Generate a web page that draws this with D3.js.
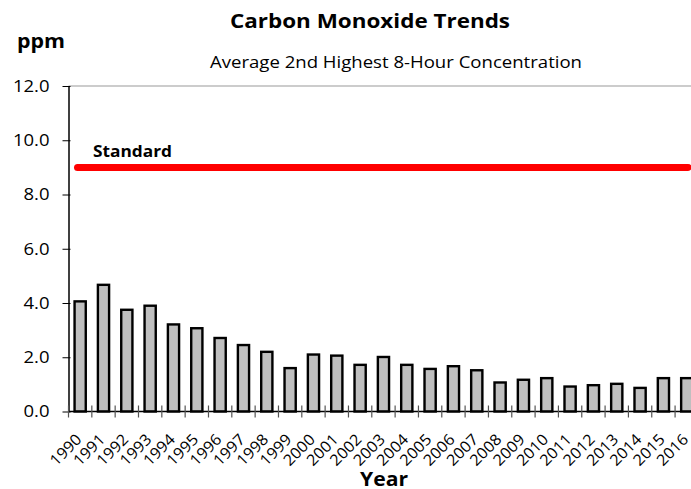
<!DOCTYPE html>
<html>
<head>
<meta charset="utf-8">
<script src="https://cdn.jsdelivr.net/npm/d3@7"></script>
<style>
  body { margin: 0; background: #fff; }
  svg { display: block; font-family: "Open Sans", sans-serif; }
</style>
</head>
<body>
<svg id="chart" width="691" height="489"></svg>
<script>
// values
var years = ["1990","1991","1992","1993","1994","1995","1996","1997","1998","1999",
             "2000","2001","2002","2003","2004","2005","2006","2007","2008","2009",
             "2010","2011","2012","2013","2014","2015","2016"];
var ppm = [4.06, 4.67, 3.75, 3.9, 3.21, 3.07, 2.71, 2.45, 2.2, 1.6,
           2.1, 2.06, 1.72, 2.01, 1.72, 1.57, 1.67, 1.52, 1.07, 1.17,
           1.23, 0.92, 0.97, 1.02, 0.87, 1.23, 1.23];
var yTicks = [0, 2, 4, 6, 8, 10, 12];
var standard = 9;

var svg = d3.select("#chart");
var plotLeft = 68.5, plotTop = 86, plotBottom = 411.5;
var step = 23.33;

// the original text is a bit wider than Open Sans, stretch it
function stretch(sel, f)
{
	sel.each(function() {
		var w = this.getComputedTextLength();
		d3.select(this).attr("textLength", w * f).attr("lengthAdjust", "spacingAndGlyphs");
	});
}

var x = d3.scaleBand().domain(years).range([plotLeft, plotLeft + step * years.length]).paddingInner(0.52).paddingOuter(0.26);
var xb = d3.scaleBand().domain(years).range([plotLeft, plotLeft + step * years.length]);
var y = d3.scaleLinear().domain([0, 12]).range([plotBottom, plotTop]);

// top gridline
svg.append("line")
	.attr("x1", plotLeft).attr("x2", 691)
	.attr("y1", y(12)).attr("y2", y(12))
	.attr("stroke", "#9a9a9a").attr("stroke-width", 1.2);

// standard line
svg.append("line")
	.attr("x1", plotLeft + 9).attr("x2", 688)
	.attr("y1", y(standard)).attr("y2", y(standard))
	.attr("stroke", "#ff0000").attr("stroke-width", 7)
	.attr("stroke-linecap", "round");

svg.append("text")
	.attr("x", 93).attr("y", 157)
	.attr("font-weight", "bold").attr("font-size", 16)
	.attr("textLength", 79).attr("lengthAdjust", "spacingAndGlyphs")
	.text("Standard");

// bars
svg.selectAll("rect.bar").data(ppm).enter().append("rect")
	.attr("class", "bar")
	.attr("x", function(d, i) { return x(years[i]); })
	.attr("width", x.bandwidth())
	.attr("y", function(d) { return y(d); })
	.attr("height", function(d) { return y(0) - y(d); })
	.attr("fill", "#bfbfbf")
	.attr("stroke", "#000")
	.attr("stroke-width", 2.4);

// y axis
var yAxis = svg.append("g")
	.attr("transform", "translate(" + plotLeft + ",0)")
	.call(d3.axisLeft(y).tickValues(yTicks).tickFormat(d3.format(".1f")).tickSize(6).tickPadding(13));
yAxis.select(".domain").attr("stroke", "#000").attr("stroke-width", 1.5)
	.attr("d", "M0.5," + plotTop + "V" + plotBottom);
yAxis.selectAll(".tick line").attr("stroke", "#000").attr("x2", -6).attr("x1", 2);
yAxis.selectAll(".tick text").attr("font-size", 16.5).attr("fill", "#000")
	.attr("font-family", "'Open Sans', sans-serif");
stretch(yAxis.selectAll(".tick text"), 1.12);

// x axis
svg.append("line")
	.attr("x1", plotLeft).attr("x2", 691)
	.attr("y1", plotBottom).attr("y2", plotBottom)
	.attr("stroke", "#000").attr("stroke-width", 1.5);
svg.selectAll("line.xtick").data(years).enter().append("line")
	.attr("class", "xtick")
	.attr("x1", function(d) { return xb(d); }).attr("x2", function(d) { return xb(d); })
	.attr("y1", plotBottom - 6).attr("y2", plotBottom + 6)
	.attr("stroke", "#555").attr("stroke-width", 1.2);

var xLabels = svg.selectAll("text.xlab").data(years).enter().append("text")
	.attr("class", "xlab")
	.attr("text-anchor", "end")
	.attr("font-size", 15.5)
	.attr("transform", function(d) {
		return "translate(" + (xb(d) + xb.bandwidth() / 2 + 2.5) + "," + (plotBottom + 29) + ") rotate(-45)";
	})
	.text(function(d) { return d; });
stretch(xLabels, 1.05);

// titles
svg.append("text")
	.attr("x", 370).attr("y", 28)
	.attr("text-anchor", "middle").attr("font-weight", "bold").attr("font-size", 19.5)
	.attr("textLength", 280).attr("lengthAdjust", "spacingAndGlyphs")
	.text("Carbon Monoxide Trends");
svg.append("text")
	.attr("x", 396).attr("y", 68)
	.attr("text-anchor", "middle").attr("font-size", 16.3)
	.attr("textLength", 372).attr("lengthAdjust", "spacingAndGlyphs")
	.text("Average 2nd Highest 8-Hour Concentration");
svg.append("text")
	.attr("x", 17).attr("y", 48)
	.attr("font-weight", "bold").attr("font-size", 19)
	.attr("textLength", 48).attr("lengthAdjust", "spacingAndGlyphs")
	.text("ppm");
svg.append("text")
	.attr("x", 384).attr("y", 486)
	.attr("text-anchor", "middle").attr("font-weight", "bold").attr("font-size", 19)
	.attr("textLength", 48).attr("lengthAdjust", "spacingAndGlyphs")
	.text("Year");
</script>
</body>
</html>
